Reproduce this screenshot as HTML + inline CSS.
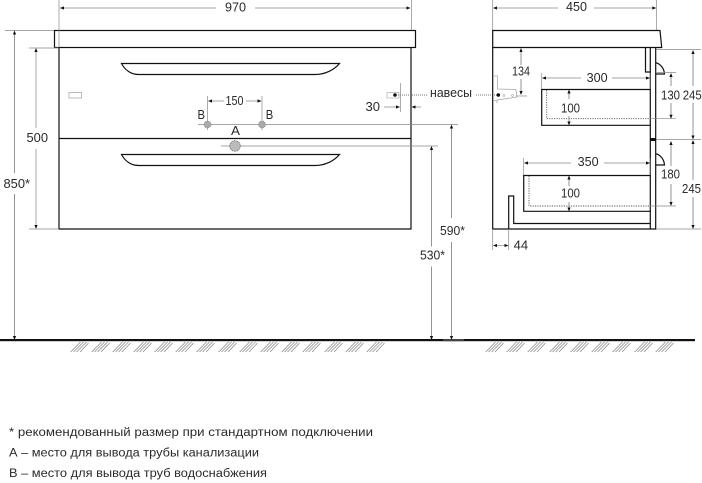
<!DOCTYPE html>
<html><head><meta charset="utf-8"><style>
html,body{margin:0;padding:0;background:#fff;width:702px;height:483px;overflow:hidden}
svg{display:block}
text{font-family:"Liberation Sans","DejaVu Sans",sans-serif;font-size:12.5px;fill:#2a2a2a}
text.n{font-size:11.5px}
.k{fill:none;stroke:#111;stroke-width:1.2}
.g{fill:none;stroke:#888;stroke-width:.7}
.d{fill:none;stroke:#666;stroke-width:.7}
.o{fill:none;stroke:#777;stroke-width:1;stroke-dasharray:1 1}
.a{fill:#111}
</style></head><body>
<svg width="702" height="483" viewBox="0 0 702 483" xmlns="http://www.w3.org/2000/svg">
<defs>
<path id="r" class="a" d="M0 0l4 -1.600v3.200z"/>
<g id="hh" fill="none" stroke="#777" stroke-width=".6"><path d="M0.700 352L10.500 342M3.500 352L13.500 342M6.500 352L16.500 342M10 352L18.500 343"/></g>
</defs>

<!-- front view -->
<rect class="k" x="54.500" y="30.500" width="361" height="17"/>
<path class="k" d="M59 47.500V229H411V47.500"/>
<path class="k" d="M59 138.500H411"/>
<path class="k" d="M121.500 63.500H339.500C334 70 325 74.500 315 74.500H139C131 74.500 125 70 121.500 63.500Z"/>
<path class="k" d="M121.500 154.500H339.500C334 161 325 165.500 315 165.500H139C131 165.500 125 161 121.500 154.500Z"/>
<rect x="69" y="92.500" width="12.500" height="5.500" fill="none" stroke="#aaa" stroke-width=".8"/>
<rect x="387" y="92.500" width="12" height="5.500" fill="none" stroke="#bbb" stroke-width=".8"/>
<circle cx="395" cy="95" r="1.800" fill="#111"/>
<path class="o" d="M398 95H428M476 95H498"/>

<!-- top 970 -->
<path class="g" d="M59 0V47M411.500 0V30"/>
<path class="g" d="M60 8H216M255 8H410"/>
<use href="#r" x="60" y="8"/><use href="#r" transform="translate(410.500 8) rotate(180)"/>
<text x="225" y="11.500" textLength="21" lengthAdjust="spacingAndGlyphs">970</text>

<!-- 850 -->
<path class="g" d="M5 30.500H54M29 48H59"/>
<path class="d" d="M14.500 33V173M14.500 194V338"/>
<use href="#r" transform="translate(14.500 30.500) rotate(90)"/>
<use href="#r" transform="translate(14.500 340) rotate(-90)"/>
<text x="3.500" y="188" textLength="26.500" lengthAdjust="spacingAndGlyphs">850*</text>

<!-- 500 -->
<path d="M36 50V128M36 149V226" fill="none" stroke="#aaa" stroke-width="1"/>
<use href="#r" transform="translate(36 48) rotate(90)"/>
<use href="#r" transform="translate(36 229) rotate(-90)"/>
<path class="g" d="M29 229H59"/>
<text x="26.500" y="142" textLength="21.500" lengthAdjust="spacingAndGlyphs">500</text>

<!-- B / 150 -->
<path class="g" d="M207.500 96V130M262 96V130M198 124.500H458M221 146H438"/>
<path class="g" d="M209 101H224M246 101H261"/>
<use href="#r" x="208" y="101"/><use href="#r" transform="translate(261.500 101) rotate(180)"/>
<text x="225.500" y="105" textLength="18" lengthAdjust="spacingAndGlyphs">150</text>
<circle cx="207.500" cy="124.500" r="3.400" fill="#aaa" stroke="#777" stroke-width=".7" stroke-dasharray="1 .7"/>
<circle cx="262" cy="124.500" r="3.400" fill="#aaa" stroke="#777" stroke-width=".7" stroke-dasharray="1 .7"/>
<circle cx="235" cy="146" r="5.300" fill="#bbb" stroke="#666" stroke-width=".8" stroke-dasharray="1 .7"/>
<text x="197.500" y="119" textLength="7.500" lengthAdjust="spacingAndGlyphs">В</text>
<text x="265.800" y="119" textLength="7.500" lengthAdjust="spacingAndGlyphs">В</text>
<text x="231" y="135" textLength="9" lengthAdjust="spacingAndGlyphs">А</text>

<!-- 30 -->
<path class="g" d="M400.500 83V112"/>
<path class="g" d="M384 107H399M413 107H421"/>
<use href="#r" transform="translate(400 107) rotate(180)"/><use href="#r" x="411.500" y="107"/>
<text x="365.500" y="111" textLength="14.500" lengthAdjust="spacingAndGlyphs">30</text>
<text x="430" y="97" textLength="42" lengthAdjust="spacingAndGlyphs">навесы</text>

<!-- 590 / 530 -->
<path class="d" d="M451.500 126V218M451.500 242V338"/>
<use href="#r" transform="translate(451.500 124.500) rotate(90)"/>
<use href="#r" transform="translate(451.500 340) rotate(-90)"/>
<text x="440" y="235" textLength="25" lengthAdjust="spacingAndGlyphs">590*</text>
<path class="d" d="M431.500 148V246.500M431.500 266.500V338"/>
<use href="#r" transform="translate(431.500 146) rotate(90)"/>
<use href="#r" transform="translate(431.500 340) rotate(-90)"/>
<text x="420" y="259.500" textLength="25" lengthAdjust="spacingAndGlyphs">530*</text>

<!-- side view -->
<path class="k" d="M492.700 30.500H660L661.700 47.500H492.700Z"/>
<path class="k" d="M492.700 47.500V229H655.700V47.500M650.300 47.500V229"/>
<path class="k" d="M645.500 47.500V72H650"/>
<path class="k" d="M655.700 74H664.500C664 68 660.500 64 655.700 62.700"/>
<path class="k" d="M655.700 165H664.500C664 159 660.500 155 655.700 153.700"/>
<rect x="650" y="138" width="5.700" height="3" fill="#111"/>
<path class="k" d="M650 89.500H541.700V125.300H650"/>
<path d="M546.700 90V118.700H650" fill="none" stroke="#555" stroke-width=".9" stroke-dasharray="1.200 1.200"/>
<path class="k" d="M650 175.500H523.700V211.300H650"/>
<path d="M529 176V206H650" fill="none" stroke="#555" stroke-width=".9" stroke-dasharray="1.200 1.200"/>
<path class="k" d="M508.700 229V196H513.700V223.500H650"/>

<!-- hinge detail side -->
<path d="M493 76H497.500V89L516 89.500L517 97L497 100V103M497 100L493 101" fill="none" stroke="#aaa" stroke-width=".8"/>
<circle cx="498.300" cy="95" r="1.800" fill="#111"/>
<circle cx="504" cy="95.500" r="1" fill="none" stroke="#888" stroke-width=".5"/>
<circle cx="512.500" cy="95.500" r="1" fill="none" stroke="#888" stroke-width=".5"/>
<path class="g" d="M516 96H527"/>

<!-- 450 -->
<path class="g" d="M492.700 0V30M656.500 0V30"/>
<path class="g" d="M494 8H558M594 8H655"/>
<use href="#r" x="493" y="8"/><use href="#r" transform="translate(656.300 8) rotate(180)"/>
<text x="566" y="11" textLength="21" lengthAdjust="spacingAndGlyphs">450</text>

<!-- 134 -->
<path class="d" d="M521 49V65M521 79V93"/>
<use href="#r" transform="translate(521 48) rotate(90)"/>
<use href="#r" transform="translate(521 95) rotate(-90)"/>
<text x="512" y="75.700" textLength="18" lengthAdjust="spacingAndGlyphs">134</text>

<!-- 300 -->
<path class="g" d="M541.700 73V89M650 73V89"/>
<path class="g" d="M544 78H581M612 78H648"/>
<use href="#r" x="542" y="78"/><use href="#r" transform="translate(650 78) rotate(180)"/>
<text x="586.700" y="82" textLength="21" lengthAdjust="spacingAndGlyphs">300</text>

<!-- 100 top -->
<path class="d" d="M569 91V99M569 116V124"/>
<use href="#r" transform="translate(569 89.500) rotate(90)"/>
<use href="#r" transform="translate(569 125.500) rotate(-90)"/>
<text x="561" y="112.300" textLength="19" lengthAdjust="spacingAndGlyphs">100</text>

<!-- 130/245 top -->
<path class="g" d="M656 49.500H701M656 72.500H676M650 118.700H676M656 139.500H701"/>
<path class="d" d="M671 75V86M671 103V116"/>
<use href="#r" transform="translate(671 73) rotate(90)"/>
<use href="#r" transform="translate(671 118.700) rotate(-90)"/>
<text x="661" y="99.700" textLength="19" lengthAdjust="spacingAndGlyphs">130</text>
<path class="d" d="M693 52V86M693 103V137"/>
<use href="#r" transform="translate(693 50) rotate(90)"/>
<use href="#r" transform="translate(693 139.500) rotate(-90)"/>
<text x="682.700" y="99.700" textLength="19" lengthAdjust="spacingAndGlyphs">245</text>

<!-- 350 -->
<path class="g" d="M523.700 158V175M650 158V175"/>
<path class="g" d="M526 163H571M604 163H648"/>
<use href="#r" x="524" y="163"/><use href="#r" transform="translate(650 163) rotate(180)"/>
<text x="577.700" y="166" textLength="21" lengthAdjust="spacingAndGlyphs">350</text>

<!-- 100 bottom -->
<path class="d" d="M569 177V186M569 202V210"/>
<use href="#r" transform="translate(569 175.500) rotate(90)"/>
<use href="#r" transform="translate(569 211.500) rotate(-90)"/>
<text x="561" y="197.700" textLength="19" lengthAdjust="spacingAndGlyphs">100</text>

<!-- 180 / 245 -->
<path class="d" d="M671 143V166M671 184V204"/>
<use href="#r" transform="translate(671 141) rotate(90)"/>
<use href="#r" transform="translate(671 206) rotate(-90)"/>
<text x="661" y="178.700" textLength="19" lengthAdjust="spacingAndGlyphs">180</text>
<path class="d" d="M693 142V180M693 197V227"/>
<use href="#r" transform="translate(693 140) rotate(90)"/>
<use href="#r" transform="translate(693 229) rotate(-90)"/>
<text x="682" y="193" textLength="19" lengthAdjust="spacingAndGlyphs">245</text>
<path class="g" d="M656 229H701"/>
<path class="g" d="M650 206H676"/>

<!-- 44 -->
<path class="g" d="M492.700 229V250M508.700 229V250"/>
<path class="g" d="M494 245.500H507"/>
<use href="#r" x="493" y="245.500"/><use href="#r" transform="translate(508.500 245.500) rotate(180)"/>
<text x="513.700" y="249.500" textLength="14.500" lengthAdjust="spacingAndGlyphs">44</text>

<!-- floor -->
<rect x="0" y="339" width="695" height="2.200" fill="#111"/>
<rect x="443" y="339" width="21" height="2.200" fill="#444"/>
<g>
<use href="#hh" x="70"/><use href="#hh" x="91"/><use href="#hh" x="112"/><use href="#hh" x="133"/><use href="#hh" x="154"/><use href="#hh" x="175"/><use href="#hh" x="196"/><use href="#hh" x="218"/><use href="#hh" x="239"/><use href="#hh" x="260"/><use href="#hh" x="281"/><use href="#hh" x="302"/><use href="#hh" x="324"/><use href="#hh" x="345"/><use href="#hh" x="366"/>
<use href="#hh" x="485"/><use href="#hh" x="506"/><use href="#hh" x="527"/><use href="#hh" x="549"/><use href="#hh" x="570"/><use href="#hh" x="591"/><use href="#hh" x="612"/><use href="#hh" x="634"/><use href="#hh" x="655"/>
</g>

<!-- notes -->
<text class="n" x="9" y="436" textLength="364" lengthAdjust="spacingAndGlyphs">* рекомендованный размер при стандартном подключении</text>
<text class="n" x="9" y="456.500" textLength="250" lengthAdjust="spacingAndGlyphs">А – место для вывода трубы канализации</text>
<text class="n" x="9" y="477" textLength="258" lengthAdjust="spacingAndGlyphs">В – место для вывода труб водоснабжения</text>
</svg>
</body></html>
